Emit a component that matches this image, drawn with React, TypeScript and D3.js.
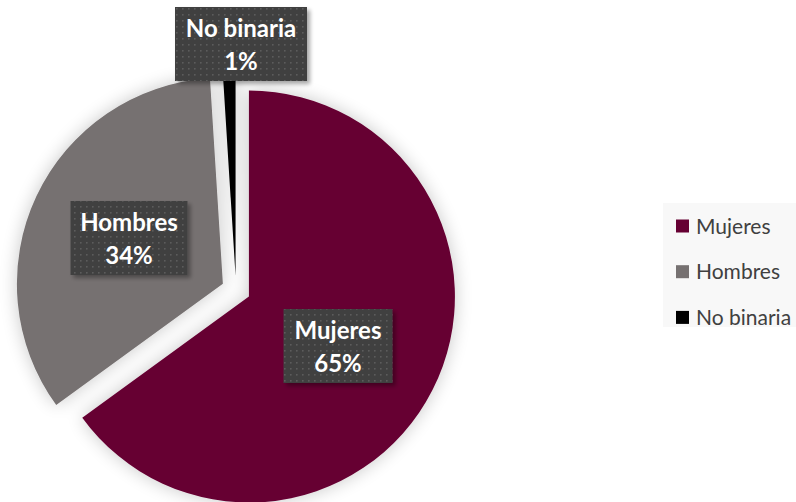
import React from "react";
import * as d3 from "d3";

const categories = ["Mujeres", "Hombres", "No binaria"];
const values = [65, 34, 1];
const colors = ["#660033", "#767171", "#000000"];
const labelCenters: [number, number][] = [
  [338, 346],
  [129, 238],
  [241, 44],
];

const W = 796;
const H = 502;
const cx = 236;
const cy = 290;
const R = 206;
const explode = 14.5;

export default function App() {
  const pie = d3.pie<number>().sort(null).value((d) => d);
  const arcs = pie(values);
  const arcGen = d3.arc<d3.PieArcDatum<number>>().innerRadius(0).outerRadius(R);

  return (
    <svg
      width={W}
      height={H}
      style={{ position: "absolute", left: 0, top: 0, background: "#fff" }}
      fontFamily="Lato, 'Open Sans', sans-serif"
    >
      <defs>
        <filter id="sh" x="-30%" y="-30%" width="160%" height="160%">
          <feGaussianBlur in="SourceAlpha" stdDeviation="9" />
          <feOffset dx="0" dy="0" result="b" />
          <feComponentTransfer>
            <feFuncA type="linear" slope="0.22" />
          </feComponentTransfer>
          <feMerge>
            <feMergeNode />
            <feMergeNode in="SourceGraphic" />
          </feMerge>
        </filter>
        <filter id="bsh" x="-20%" y="-20%" width="150%" height="150%">
          <feGaussianBlur in="SourceAlpha" stdDeviation="2" />
          <feOffset dx="3" dy="3" />
          <feComponentTransfer>
            <feFuncA type="linear" slope="0.35" />
          </feComponentTransfer>
          <feMerge>
            <feMergeNode />
            <feMergeNode in="SourceGraphic" />
          </feMerge>
        </filter>
        <pattern id="dots" width="6" height="6" patternUnits="userSpaceOnUse">
          <rect width="6" height="6" fill="#404040" />
          <rect x="2" y="2" width="1.6" height="1.6" fill="#5c5c5c" />
        </pattern>
      </defs>
      <g filter="url(#sh)">
        {arcs.map((a, i) => {
          const mid = (a.startAngle + a.endAngle) / 2;
          const dx = Math.sin(mid) * explode;
          const dy = -Math.cos(mid) * explode;
          return (
            <path
              key={categories[i]}
              d={arcGen(a) || ""}
              transform={`translate(${cx + dx},${cy + dy})`}
              fill={colors[i]}
            />
          );
        })}
      </g>
      {arcs.map((a, i) => {
        const [lx, ly] = labelCenters[i];
        const pct = Math.round((values[i] / d3.sum(values)) * 100) + "%";
        const bw = categories[i] === "No binaria" ? 132 : categories[i] === "Hombres" ? 117 : 109;
        const bh = 74;
        return (
          <g key={"l" + i}>
            <rect
              x={lx - bw / 2}
              y={ly - bh / 2}
              width={bw}
              height={bh}
              fill="url(#dots)"
              filter="url(#bsh)"
            />
            <text
              x={lx}
              y={ly - 7}
              textAnchor="middle"
              fill="#fff"
              fontWeight="bold"
              fontSize={24}
            >
              {categories[i]}
            </text>
            <text
              x={lx}
              y={ly + 26}
              textAnchor="middle"
              fill="#fff"
              fontWeight="bold"
              fontSize={24}
            >
              {pct}
            </text>
          </g>
        );
      })}
      <rect x={663} y={203} width={133} height={124} fill="#f8f8f8" />
      {categories.map((c, i) => (
        <g key={"lg" + i} transform={`translate(676,${226 + i * 45.7})`}>
          <rect x={0} y={-6.5} width={13} height={13} fill={colors[i]} />
          <text x={20} y={7.5} fontSize={21} fill="#404040">
            {c}
          </text>
        </g>
      ))}
    </svg>
  );
}
